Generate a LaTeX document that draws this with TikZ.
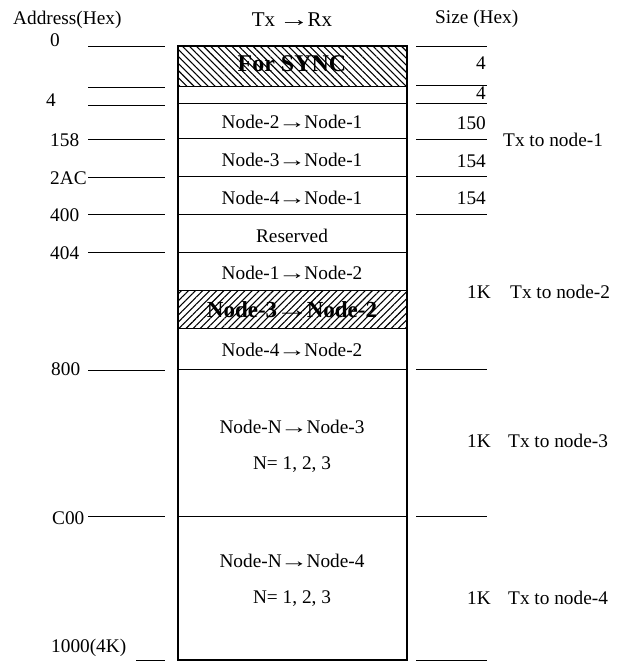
\documentclass[tikz,border=0pt]{standalone}
\usepackage{fontspec}
\usepackage{graphicx}
\setmainfont{Liberation Serif}
\usetikzlibrary{patterns.meta}
\newcommand\rarr{\kern-0.08em\scalebox{1.45}[1]{→}\kern-0.08em}
\begin{document}
\begin{tikzpicture}[x=1pt,y=-1pt,
  lbl/.style={inner sep=0pt, font=\fontsize{19.3}{21}\selectfont},
  boldlbl/.style={inner sep=0pt, font=\bfseries\fontsize{23}{25}\selectfont},
  tick/.style={line width=0.8pt},
  inner/.style={line width=1pt},
  frame/.style={line width=2.2pt}]
\useasboundingbox (0,0) rectangle (627,663);
% hatched bands
\fill[pattern={Lines[angle=-45,distance=5pt,line width=1.1pt]}] (178,46) rectangle (407,87);
\fill[pattern={Lines[angle=45,distance=5pt,line width=1.1pt]}] (178,290) rectangle (407,328);
% inner dividers
\foreach \yy in {87,104,139,176,214,252,290,328,369,516}
  \draw[inner] (178,\yy) -- (407,\yy);
% frame
\draw[frame] (178,46) rectangle (407,660);
% left ticks
\foreach \yy in {46,87,105,139,177,214,252,370,516}
  \draw[tick] (88,\yy) -- (165,\yy);
\draw[tick] (136,660) -- (165,660);
% right ticks
\foreach \yy in {46,85,103,139,176,214,369,516,660}
  \draw[tick] (416,\yy) -- (487,\yy);
% headers
\node[lbl, anchor=west] (hAddr) at (13,20) {Address(Hex)};
\node[lbl, font=\fontsize{21}{23}\selectfont] (hTxRx) at (292,20) {Tx \rarr Rx};
\node[lbl, anchor=west] (hSize) at (435,19) {Size (Hex)};
% addresses
\node[lbl, anchor=west] (a0) at (50,40) {0};
\node[lbl, anchor=west] (a4) at (46,100) {4};
\node[lbl, anchor=west] (a158) at (50,140) {158};
\node[lbl, anchor=west] (a2AC) at (50,178) {2AC};
\node[lbl, anchor=west] (a400) at (50,215) {400};
\node[lbl, anchor=west] (a404) at (50,253) {404};
\node[lbl, anchor=west] (a800) at (51,369) {800};
\node[lbl, anchor=west] (aC00) at (52,518) {C00};
\node[lbl, anchor=west] (a1000) at (51,648) {1000(4K)};
% sizes
\node[lbl, anchor=east] (s1) at (486,63) {4};
\node[lbl, anchor=east] (s2) at (486,93) {4};
\node[lbl, anchor=east] (s3) at (486,123) {150};
\node[lbl, anchor=east] (s4) at (486,161) {154};
\node[lbl, anchor=east] (s5) at (486,198) {154};
% box contents
\node[boldlbl, font=\bfseries\fontsize{24}{26}\selectfont] (sync) at (292,64) {For SYNC};
\node[lbl] (n21) at (292,122) {Node-2\rarr Node-1};
\node[lbl] (n31) at (292,160) {Node-3\rarr Node-1};
\node[lbl] (n41) at (292,198) {Node-4\rarr Node-1};
\node[lbl] (res) at (292,236) {Reserved};
\node[lbl] (n12) at (292,273) {Node-1\rarr Node-2};
\node[boldlbl] (n32) at (292,310) {Node-3\rarr Node-2};
\node[lbl] (n42) at (292,350) {Node-4\rarr Node-2};
\node[lbl] (nN3) at (292,427) {Node-N\rarr Node-3};
\node[lbl] (nN3b) at (292,465) {N= 1, 2, 3};
\node[lbl] (nN4) at (292,561) {Node-N\rarr Node-4};
\node[lbl] (nN4b) at (292,599) {N= 1, 2, 3};
% right notes
\node[lbl, anchor=west] (t1) at (503,140) {Tx to node-1};
\node[lbl, anchor=west] (k2) at (467,292) {1K};
\node[lbl, anchor=west] (t2) at (510,292) {Tx to node-2};
\node[lbl, anchor=west] (k3) at (467,441) {1K};
\node[lbl, anchor=west] (t3) at (508,441) {Tx to node-3};
\node[lbl, anchor=west] (k4) at (467,598) {1K};
\node[lbl, anchor=west] (t4) at (508,598) {Tx to node-4};
\end{tikzpicture}
\end{document}
